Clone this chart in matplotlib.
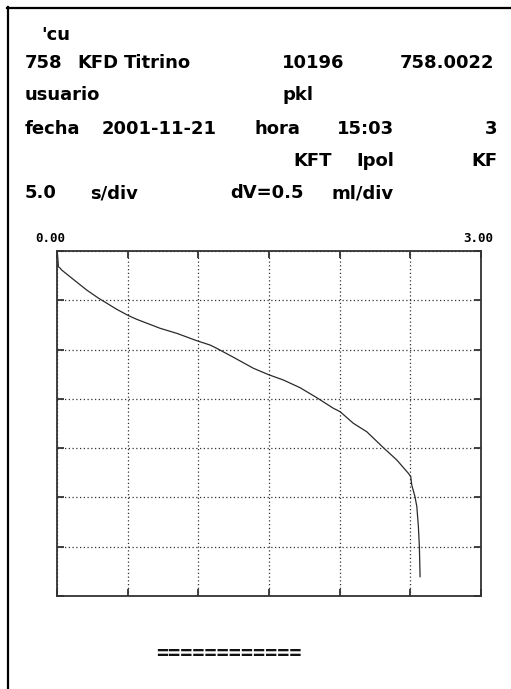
import matplotlib
matplotlib.use("Agg")
import matplotlib.pyplot as plt
from matplotlib.lines import Line2D

# ---- data ----
volume_ml = [0.000, 0.004, 0.010, 0.021, 0.033, 0.092, 0.210, 0.290, 0.422, 0.505, 0.564,
             0.729, 0.847, 0.989, 1.083, 1.130, 1.248, 1.390, 1.503, 1.602, 1.720,
             1.838, 1.956, 2.003, 2.097, 2.192, 2.310, 2.404, 2.486, 2.503, 2.510,
             2.533, 2.546, 2.557, 2.564, 2.569]
time_s = [0.55, 0.40, 1.60, 1.72, 1.93, 2.61, 3.96, 4.75, 5.91, 6.55, 6.93,
          7.84, 8.35, 9.10, 9.54, 9.87, 10.78, 11.90, 12.58, 13.09, 13.87,
          14.88, 15.96, 16.30, 17.48, 18.34, 19.96, 21.20, 22.55, 22.90, 23.74,
          24.93, 25.94, 27.97, 30.00, 33.04]

x_min, x_max, x_div = 0.0, 3.0, 0.5      # dV = 0.5 ml/div
y_min, y_max, y_div = 0.0, 35.0, 5.0     # 5.0 s/div

header_lines = [
    ["'cu"],
    ["758", "KFD", "Titrino", "10196", "758.0022"],
    ["usuario", "pkl"],
    ["fecha", "2001-11-21", "hora", "15:03", "3"],
    ["KFT", "Ipol", "KF"],
    ["5.0", "s/div", "dV=0.5", "ml/div"],
]
footer_text = "============"

# ---- layout (pixels in a 511x689 canvas) ----
W, H = 511, 689
line_baselines = [39.5, 67.5, 100.5, 133.5, 166.5, 198.5]
word_layout = [
    [(41, 'left')],
    [(25, 'left'), (77, 'left'), (124, 'left'), (282, 'left'), (494, 'right')],
    [(25, 'left'), (282, 'left')],
    [(25, 'left'), (102, 'left'), (255, 'left'), (394, 'right'), (497, 'right')],
    [(293, 'left'), (394, 'right'), (497, 'right')],
    [(25, 'left'), (90, 'left'), (230, 'left'), (394, 'right')],
]

fig = plt.figure(figsize=(W / 100, H / 100), dpi=100)
fig.patch.set_facecolor('white')

def fx(px):
    return px / W

def fy(py):
    return 1 - py / H

# outer border (left and top)
fig.add_artist(Line2D([fx(7.5), fx(7.5)], [fy(6.5), 0], transform=fig.transFigure,
                      color='black', lw=1.6))
fig.add_artist(Line2D([fx(6.7), 1], [fy(7.5), fy(7.5)], transform=fig.transFigure,
                      color='black', lw=1.6))

hfont = dict(family='DejaVu Sans', weight='bold', size=13, color='black')
for words, layout, base in zip(header_lines, word_layout, line_baselines):
    for w, (px, ha) in zip(words, layout):
        fig.text(fx(px), fy(base), w, ha=ha, va='baseline', **hfont)

fig.text(fx(229), fy(659), footer_text, ha='center', va='baseline',
         family='DejaVu Sans Mono', weight='bold', size=14.5, color='#111')

# ---- plot area ----
left, right, top, bottom = 57, 481, 251, 596
ax = fig.add_axes([fx(left), fy(bottom), (right - left) / W, (bottom - top) / H])
ax.plot(volume_ml, time_s, color='#2a2a2a', lw=0.9)
ax.set_xlim(x_min, x_max)
ax.set_ylim(y_max, y_min)
ax.set_xticks([x_min + i * x_div for i in range(int(round((x_max - x_min) / x_div)) + 1)])
ax.set_yticks([y_min + i * y_div for i in range(int(round((y_max - y_min) / y_div)) + 1)])
ax.tick_params(direction='in', length=5, width=1.3, color='#333',
               top=True, right=True, labelbottom=False, labelleft=False)
ax.grid(True, color='#333', linestyle=(0, (1, 2.0)), linewidth=0.9)
for s in ax.spines.values():
    s.set_color('#333')
    s.set_linewidth(1.3)

# range labels above the plot
lfont = dict(family='DejaVu Sans Mono', weight='bold', size=9, color='black')
fig.text(fx(50), fy(238), f"{x_min:.2f}", ha='center', va='center', **lfont)
fig.text(fx(478), fy(238), f"{x_max:.2f}", ha='center', va='center', **lfont)

fig.savefig("out.png", dpi=100)
